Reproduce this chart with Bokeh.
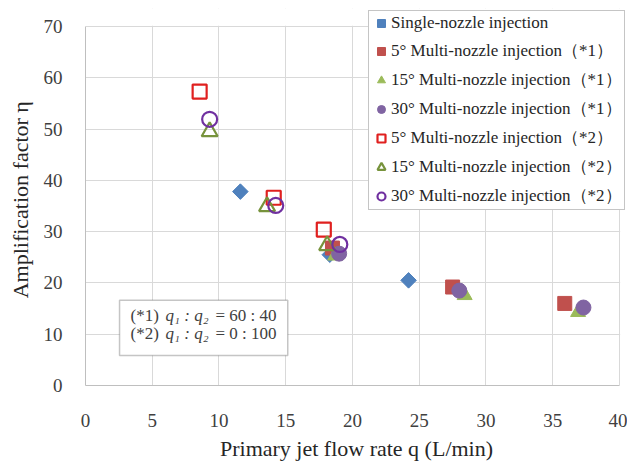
import math
from bokeh.plotting import figure
from bokeh.models import Legend, LegendItem, BoxAnnotation, Label, FixedTicker
from bokeh.embed import file_html
from bokeh.resources import INLINE

# ---- data ----
single_x = [11.6, 18.3, 24.2]
single_y = [37.8, 25.5, 20.5]

sq1_x = [18.5, 27.5, 35.9]
sq1_y = [26.8, 19.2, 16.0]
tri1_x = [18.7, 28.4, 36.9]
tri1_y = [25.3, 17.6, 14.3]
cir1_x = [19.0, 28.0, 37.3]
cir1_y = [25.7, 18.5, 15.2]

sq2_x = [8.55, 14.1, 17.85]
sq2_y = [57.3, 36.6, 30.4]
tri2_x = [9.3, 13.6, 18.1]
tri2_y = [49.5, 34.9, 27.3]
cir2_x = [9.3, 14.25, 19.05]
cir2_y = [51.9, 35.1, 27.5]

x_ticks = [0, 5, 10, 15, 20, 25, 30, 35, 40]
y_ticks = [0, 10, 20, 30, 40, 50, 60, 70]

labels = [
    "Single-nozzle injection",
    "5° Multi-nozzle injection（*1）",
    "15° Multi-nozzle injection（*1）",
    "30° Multi-nozzle injection（*1）",
    "5° Multi-nozzle injection（*2）",
    "15° Multi-nozzle injection（*2）",
    "30° Multi-nozzle injection（*2）",
]

SERIF = "Liberation Serif"
X_MAX, Y_MAX = 40, 70
X_HEADROOM = 40.6   # extra frame space right of 40 so the legend is not clipped
Y_HEADROOM = 73.5   # extra frame space above 70 so the legend can sit higher

p = figure(width=627, height=465, output_backend="svg", toolbar_location=None,
           x_range=(0, X_HEADROOM), y_range=(0, Y_HEADROOM),
           min_border_left=85, min_border_right=0, min_border_top=8, min_border_bottom=80)
p.background_fill_color = "white"
p.border_fill_color = "white"
p.outline_line_color = None

for ax in (p.xaxis, p.yaxis):
    ax.axis_line_color = "#BFBFBF"
    ax.major_tick_line_color = None
    ax.minor_tick_line_color = None
    ax.major_label_text_font = SERIF
    ax.major_label_text_font_size = "19px"
    ax.major_label_text_color = "#404040"
    ax.axis_label_text_font = SERIF
    ax.axis_label_text_font_size = "22px"
    ax.axis_label_text_font_style = "normal"
    ax.axis_label_text_color = "#262626"

p.xaxis.bounds = (0, X_MAX)
p.yaxis.bounds = (0, Y_MAX)
p.xaxis.ticker = FixedTicker(ticks=x_ticks)
p.yaxis.ticker = FixedTicker(ticks=y_ticks)
p.xaxis.major_label_standoff = 22
p.yaxis.major_label_standoff = 17
p.xaxis.axis_label = "Primary jet flow rate q (L/min)"
p.yaxis.axis_label = "Amplification factor  η"
p.xaxis.axis_label_standoff = 6
p.yaxis.axis_label_standoff = 8

p.xgrid.grid_line_color = "#D9D9D9"
p.ygrid.grid_line_color = "#D9D9D9"

# white covers outside the 0-40 / 0-70 plot area (hide grid lines in the headroom)
p.add_layout(BoxAnnotation(bottom=Y_MAX + 0.12, fill_color="white", fill_alpha=1.0,
                           line_color=None, level="underlay"))
p.add_layout(BoxAnnotation(left=X_MAX + 0.05, fill_color="white", fill_alpha=1.0,
                           line_color=None, level="underlay"))

r0 = p.scatter(single_x, single_y, marker="square", angle=math.pi / 4, size=11,
               fill_color="#4F81BD", line_color="#4F81BD")
r1 = p.scatter(sq1_x, sq1_y, marker="square", size=14, fill_color="#C0504D", line_color="#C0504D")
r2 = p.scatter(tri1_x, tri1_y, marker="triangle", size=15, fill_color="#9BBB59", line_color="#9BBB59")
r3 = p.scatter(cir1_x, cir1_y, marker="circle", size=15, fill_color="#8064A2", line_color="#8064A2")
r4 = p.scatter(sq2_x, sq2_y, marker="square", size=14, fill_color=None, line_color="#E0201F", line_width=2.2)
r5 = p.scatter(tri2_x, tri2_y, marker="triangle", size=16, fill_color=None, line_color="#77933C", line_width=2.2)
r6 = p.scatter(cir2_x, cir2_y, marker="circle", size=15, fill_color=None, line_color="#7030A0", line_width=2.2)

legend = Legend(items=[LegendItem(label=l, renderers=[r]) for l, r in
                       zip(labels, [r0, r1, r2, r3, r4, r5, r6])],
                location=(283, 175))
legend.label_text_font = SERIF
legend.label_text_font_size = "17px"
legend.label_text_color = "#262626"
legend.glyph_width = 20
legend.glyph_height = 20
legend.label_height = 20
legend.spacing = 6
legend.padding = 2
legend.margin = 0
legend.label_standoff = 0
legend.border_line_color = "#8C8C8C"
legend.border_line_width = 1.5
legend.background_fill_color = "white"
legend.background_fill_alpha = 1.0
p.add_layout(legend, "center")

box = BoxAnnotation(left=2.55, right=15.15, top=16.6, bottom=5.85,
                    fill_color="white", fill_alpha=1.0,
                    line_color="#404040", line_width=1.5, level="annotation")
p.add_layout(box)

for y, tag, ratio in [(13.65, "(*1)", "= 60 : 40"), (10.15, "(*2)", "= 0 : 100")]:
    p.add_layout(Label(x=3.37, y=y, text=tag, text_font=SERIF, text_font_size="17px",
                       text_color="#404040", text_baseline="middle", level="annotation"))
    p.add_layout(Label(x=6.0, y=y, text="q₁ : q₂", text_font=SERIF, text_font_size="17px",
                       text_font_style="italic", text_color="#404040",
                       text_baseline="middle", level="annotation"))
    p.add_layout(Label(x=9.74, y=y, text=ratio, text_font=SERIF, text_font_size="17px",
                       text_color="#404040", text_baseline="middle", level="annotation"))

open("out.html", "w").write(file_html(p, INLINE))
